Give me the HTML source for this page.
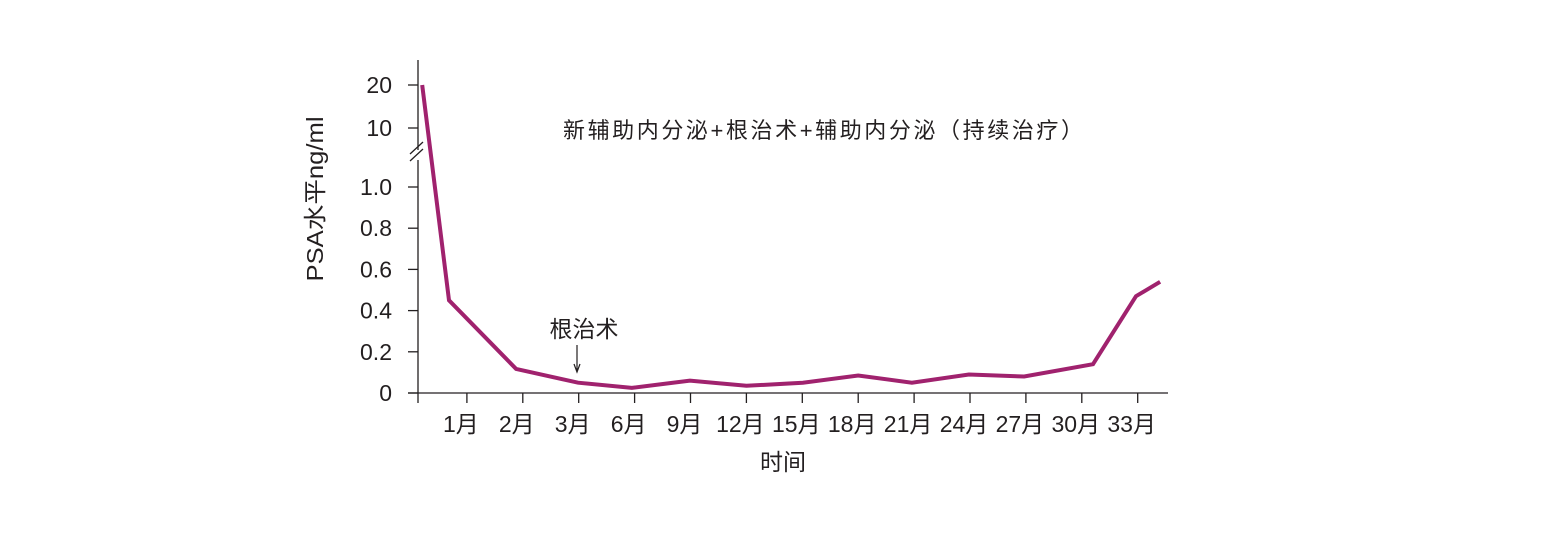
<!DOCTYPE html>
<html><head><meta charset="utf-8"><style>
body{margin:0;background:#fff;}
svg{display:block;font-family:"Liberation Sans","Noto Sans CJK SC",sans-serif;fill:#231f20;}
</style></head><body>
<svg width="1554" height="540">
<g id="axes"></g>
<g id="marks"></g>
</svg>
<script>
const categories=["1月","2月","3月","6月","9月","12月","15月","18月","21月","24月","27月","30月","33月"];
const pointX=[0.2,0.68,1.88,2.99,3.95,4.99,6,7.01,8,8.96,9.98,10.97,12.2,12.97,13.4];
const psaValues=[20,0.45,0.117,0.05,0.025,0.06,0.035,0.05,0.085,0.05,0.09,0.08,0.14,0.47,0.54];
const lowTicks=[0,0.2,0.4,0.6,0.8,1.0];
const lowTickLabels=["0","0.2","0.4","0.6","0.8","1.0"];
const highTicks=[10,20];
const highTickLabels=["10","20"];

const NS="http://www.w3.org/2000/svg";
function xs(i){return 411+55.9*i;}
function ys(v){return v<=1.1?393-206*v:128-(v-10)*4.3;}
function mk(parent,tag,attrs,text){const e=document.createElementNS(NS,tag);for(const k in attrs)e.setAttribute(k,attrs[k]);if(text!==undefined)e.textContent=text;parent.appendChild(e);return e;}
const ax=document.getElementById('axes'),mg=document.getElementById('marks');
const st={stroke:'#231f20','stroke-width':1.3,fill:'none'};
let e;
e=mk(ax,'line',Object.assign({x1:418,y1:60,x2:418,y2:150},st));

e=mk(ax,'line',Object.assign({x1:418,y1:160,x2:418,y2:393},st));

e=mk(ax,'path',Object.assign({d:'M410,154 L423,142 M410,161 L423,149'},st));

e=mk(ax,'line',Object.assign({x1:408,y1:393,x2:1168,y2:393},st));

lowTicks.forEach((v,i)=>{
  mk(ax,'line',Object.assign({x1:408,x2:418,y1:ys(v),y2:ys(v)},st));
  e=mk(ax,'text',{x:392,y:ys(v)+8,'text-anchor':'end','font-size':23},lowTickLabels[i]);
  
});
highTicks.forEach((v,i)=>{
  mk(ax,'line',Object.assign({x1:408,x2:418,y1:ys(v),y2:ys(v)},st));
  e=mk(ax,'text',{x:392,y:ys(v)+8,'text-anchor':'end','font-size':23},highTickLabels[i]);
  
});
mk(ax,'line',Object.assign({x1:418,x2:418,y1:393,y2:403},st));
categories.forEach((c,i)=>{
  const x=xs(i+1);
  mk(ax,'line',Object.assign({x1:x,x2:x,y1:393,y2:403},st));
  e=mk(ax,'text',{x:x-6,y:432,'text-anchor':'middle','font-size':23},c);
  
});
e=mk(ax,'text',{x:783,y:470,'text-anchor':'middle','font-size':23},'时间');

e=mk(ax,'text',{x:0,y:0,'text-anchor':'middle','font-size':23,textLength:165,lengthAdjust:'spacingAndGlyphs',transform:'translate(323,199) rotate(-90)'},'PSA水平ng/ml');

e=mk(ax,'text',{x:563,y:138,'font-size':22,textLength:520,lengthAdjust:'spacing'},'新辅助内分泌+根治术+辅助内分泌（持续治疗）');

e=mk(ax,'text',{x:584,y:337,'text-anchor':'middle','font-size':23},'根治术');

e=mk(ax,'path',{d:'M577,345 L577,370 M574,364 L577,372 L580,364',stroke:'#231f20','stroke-width':1.2,fill:'none'});

const d=psaValues.map((v,i)=>(i?'L':'M')+xs(pointX[i]).toFixed(1)+','+ys(v).toFixed(1)).join(' ');
e=mk(mg,'path',{d:d,stroke:'#a0226e','stroke-width':4,fill:'none','stroke-linejoin':'miter'});

</script>
</body></html>
